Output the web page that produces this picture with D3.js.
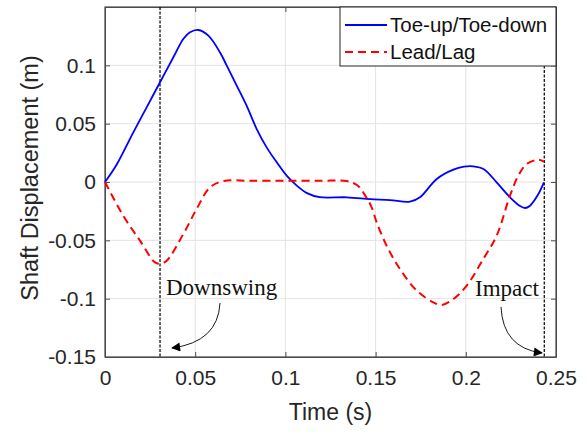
<!DOCTYPE html>
<html>
<head>
<meta charset="utf-8">
<script src="https://cdn.jsdelivr.net/npm/d3@7"></script>
<style>
  body { margin: 0; background: #fff; }
</style>
</head>
<body>
<svg id="chart" width="587" height="432" font-family="'Liberation Sans', Arial, sans-serif"></svg>
<script>
// toe-up / toe-down (blue solid)
const toeX = [0, 0.0065, 0.0157, 0.0231, 0.0305, 0.0379, 0.0434, 0.0471, 0.0517, 0.0573, 0.0637, 0.0675,
  0.0730, 0.0785, 0.0841, 0.0896, 0.0952, 0.1007, 0.1063, 0.1120, 0.1190, 0.1340, 0.1470, 0.1580,
  0.1690, 0.1746, 0.1839, 0.1931, 0.1990, 0.2040, 0.2100, 0.2171, 0.2245, 0.2300, 0.2328, 0.2356, 0.2400, 0.2433];
const toeY = [0, 0.0150, 0.0426, 0.0640, 0.0855, 0.1069, 0.1226, 0.1283, 0.1303, 0.1254, 0.1112, 0.0997,
  0.0826, 0.0654, 0.0454, 0.0297, 0.0169, 0.0054, -0.0031, -0.0095, -0.0130, -0.0131, -0.0146, -0.0155,
  -0.0169, -0.0131, 0.0026, 0.0106, 0.0131, 0.0134, 0.0110, -0.0003, -0.0131, -0.0205, -0.0223, -0.0203, -0.0110, -0.0003];

// lead / lag (red dashed)
const leadX = [0, 0.0101, 0.0194, 0.0277, 0.0305, 0.0342, 0.0434, 0.0508, 0.0582, 0.0656, 0.0800, 0.1000,
  0.1200, 0.1340, 0.1400, 0.1440, 0.1478, 0.1506, 0.1561, 0.1635, 0.1728, 0.1820, 0.1866, 0.1931, 0.2005,
  0.2097, 0.2171, 0.2245, 0.2291, 0.2337, 0.2402, 0.2433];
const leadY = [0, -0.0289, -0.0503, -0.0689, -0.0700, -0.0674, -0.0446, -0.0231, -0.0046, 0.0008, 0.0011, 0.0011,
  0.0011, 0.0008, -0.0030, -0.0110, -0.0217, -0.0346, -0.0546, -0.0746, -0.0931, -0.1031, -0.1054, -0.1003, -0.0889,
  -0.0660, -0.0460, -0.0117, 0.0054, 0.0154, 0.0191, 0.0174];

const xTicks = [0, 0.05, 0.1, 0.15, 0.2, 0.25];
const yTicks = [-0.15, -0.1, -0.05, 0, 0.05, 0.1];
const seriesNames = ["Toe-up/Toe-down", "Lead/Lag"];
const eventTimes = [0.0305, 0.2435];
const eventNames = ["Downswing", "Impact"];

const svg = d3.select("#chart");
const L = 105, R = 556, T = 7, B = 357;
const serif = "'Liberation Serif', 'Times New Roman', serif";

const x = d3.scaleLinear().domain([0, 0.25]).range([L, R]);
const y = d3.scaleLinear().domain([-0.15, 0.15]).range([B, T]);

// grid
svg.append("g").selectAll("line").data(xTicks).join("line")
  .attr("x1", d => x(d)).attr("x2", d => x(d)).attr("y1", T).attr("y2", B)
  .attr("stroke", "#e3e3e3").attr("stroke-width", 1);
svg.append("g").selectAll("line").data(yTicks).join("line")
  .attr("x1", L).attr("x2", R).attr("y1", d => y(d)).attr("y2", d => y(d))
  .attr("stroke", "#e3e3e3").attr("stroke-width", 1);

// axes (ticks inward), plain hyphen for minus like MATLAB
const fmt = d => String(+d.toFixed(2));
const ax = svg.append("g").attr("transform", `translate(0,${B})`)
  .call(d3.axisBottom(x).tickValues(xTicks).tickSizeInner(-5).tickSizeOuter(0).tickPadding(13).tickFormat(fmt));
const ay = svg.append("g").attr("transform", `translate(${L},0)`)
  .call(d3.axisLeft(y).tickValues(yTicks).tickSizeInner(-5).tickSizeOuter(0).tickPadding(9).tickFormat(fmt));
const axTop = svg.append("g").attr("transform", `translate(0,${T})`)
  .call(d3.axisTop(x).tickValues(xTicks).tickSizeInner(-5).tickSizeOuter(0).tickFormat(""));
const ayRight = svg.append("g").attr("transform", `translate(${R},0)`)
  .call(d3.axisRight(y).tickValues(yTicks).tickSizeInner(-5).tickSizeOuter(0).tickFormat(""));

[ax, ay, axTop, ayRight].forEach(g => {
  g.select(".domain").attr("stroke", "#4d4d4d");
  g.selectAll(".tick line").attr("stroke", "#4d4d4d");
  g.selectAll("text").attr("font-size", 21).attr("fill", "#262626")
    .attr("font-family", "'Liberation Sans', Arial, sans-serif");
});
svg.append("rect").attr("x", L).attr("y", T).attr("width", R - L).attr("height", B - T)
  .attr("fill", "none").attr("stroke", "#4d4d4d").attr("stroke-width", 1.2);

// event lines
svg.append("g").selectAll("line").data(eventTimes).join("line")
  .attr("x1", d => x(d)).attr("x2", d => x(d)).attr("y1", T).attr("y2", B)
  .attr("stroke", "#000").attr("stroke-width", 1.2).attr("stroke-dasharray", "3,1.5");

// curves
const line = d3.line().curve(d3.curveCatmullRom.alpha(0.5));
svg.append("path")
  .attr("d", line(toeX.map((d, i) => [x(d), y(toeY[i])])))
  .attr("fill", "none").attr("stroke", "#0000ff").attr("stroke-width", 1.8);
svg.append("path")
  .attr("d", line(leadX.map((d, i) => [x(d), y(leadY[i])])))
  .attr("fill", "none").attr("stroke", "#ff0000").attr("stroke-width", 2)
  .attr("stroke-dasharray", "8,5");

// annotations
svg.append("defs").append("marker").attr("id", "ah")
  .attr("viewBox", "0 0 10 10").attr("refX", 9).attr("refY", 5)
  .attr("markerWidth", 11).attr("markerHeight", 9).attr("markerUnits", "userSpaceOnUse")
  .attr("orient", "auto")
  .append("path").attr("d", "M0,0 L10,5 L0,10 Z").attr("fill", "#000");

svg.append("text").attr("x", 166).attr("y", 295).text(eventNames[0])
  .attr("font-family", serif).attr("font-size", 23).attr("fill", "#111");
svg.append("text").attr("x", 475).attr("y", 296).text(eventNames[1])
  .attr("font-family", serif).attr("font-size", 23).attr("fill", "#111");

svg.append("path").attr("d", "M220,303 Q218,342 172,348")
  .attr("fill", "none").attr("stroke", "#000").attr("stroke-width", 0.9).attr("marker-end", "url(#ah)");
svg.append("path").attr("d", "M501,307 Q503,348 542,353")
  .attr("fill", "none").attr("stroke", "#000").attr("stroke-width", 0.9).attr("marker-end", "url(#ah)");

// axis labels
svg.append("text").attr("x", (L + R) / 2).attr("y", 420).attr("text-anchor", "middle")
  .attr("font-size", 23).attr("fill", "#262626").text("Time (s)");
svg.append("text").attr("transform", `translate(38,178) rotate(-90)`)
  .attr("text-anchor", "middle").attr("font-size", 23.5).attr("fill", "#262626")
  .text("Shaft Displacement (m)");

// legend
const lg = svg.append("g");
lg.append("rect").attr("x", 340).attr("y", T).attr("width", R - 340).attr("height", 59)
  .attr("fill", "#fff").attr("stroke", "#262626").attr("stroke-width", 1);
const styles = [{ c: "#0000ff", w: 1.8, d: null }, { c: "#ff0000", w: 2, d: "8,5" }];
seriesNames.forEach((n, i) => {
  const yy = 25 + i * 27;
  lg.append("line").attr("x1", 345).attr("x2", 387).attr("y1", yy).attr("y2", yy)
    .attr("stroke", styles[i].c).attr("stroke-width", styles[i].w)
    .attr("stroke-dasharray", styles[i].d);
  lg.append("text").attr("x", 390).attr("y", yy + 7).attr("font-size", 20.5).attr("fill", "#111").text(n);
});
</script>
</body>
</html>
